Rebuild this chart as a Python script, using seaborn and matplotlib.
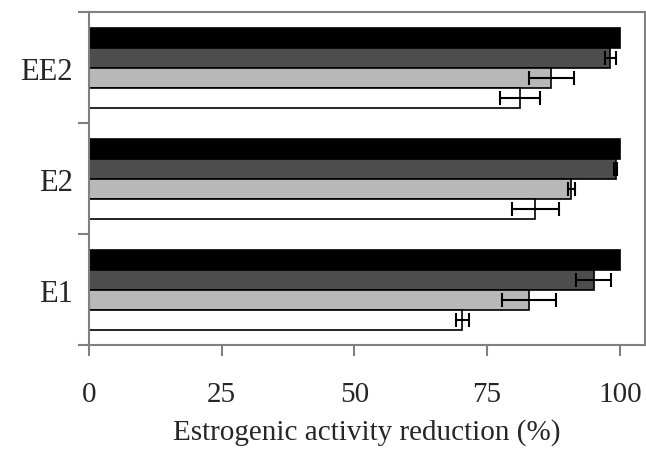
import matplotlib
matplotlib.use("Agg")
import matplotlib.pyplot as plt
import seaborn as sns
import pandas as pd
import numpy as np

compounds = ["EE2", "E2", "E1"]
treatments = ["T1", "T2", "T3", "T4"]
values = {
    "T1": [100, 100, 100],
    "T2": [98.2, 99.2, 95.1],
    "T3": [87.1, 90.9, 82.9],
    "T4": [81.2, 84.1, 70.3],
}
errors = {
    "T1": [0, 0, 0],
    "T2": [1.0, 0.3, 3.3],
    "T3": [4.2, 0.6, 5.1],
    "T4": [3.7, 4.4, 1.2],
}
colors = ["#000000", "#4d4d4d", "#b8b8b8", "#ffffff"]

rows = []
for t in treatments:
    for c, v in zip(compounds, values[t]):
        rows.append({"compound": c, "treatment": t, "value": v})
df = pd.DataFrame(rows)

sns.set_style("white")
plt.rcParams["font.family"] = ["Liberation Serif", "DejaVu Serif"]

fig, ax = plt.subplots(figsize=(6.46, 4.52), dpi=100)
fig.subplots_adjust(left=0.138, right=0.998, top=0.971, bottom=0.234)

sns.barplot(data=df, y="compound", x="value", hue="treatment",
            order=compounds, hue_order=treatments, palette=colors,
            orient="h", width=0.72, gap=0, errorbar=None, legend=False,
            edgecolor="black", linewidth=1.2, ax=ax)

# error bars from bar patches
for t, container in zip(treatments, ax.containers):
    for c_idx, patch in enumerate(container):
        e = errors[t][c_idx]
        if e > 0:
            yc = patch.get_y() + patch.get_height() / 2
            ax.errorbar(patch.get_width(), yc, xerr=e, fmt="none",
                        ecolor="black", elinewidth=1.5, capsize=5, capthick=1.5)

ax.set_xlim(0, 104.7)
ax.set_ylim(2.5, -0.5)
ax.set_xticks([0, 25, 50, 75, 100])
ax.set_xticklabels(["0", "25", "50", "75", "100"])
ax.set_yticks([-0.5, 0.5, 1.5, 2.5], minor=True)
ax.tick_params(axis="y", which="major", length=0, pad=12, labelsize=22)
ax.tick_params(axis="y", which="minor", length=8, color="#808080", width=1.5, direction="out", left=True)
ax.tick_params(axis="x", which="major", length=8, color="#808080", width=1.5, direction="out",
               pad=18, labelsize=21, bottom=True)
ax.set_xlabel("Estrogenic activity reduction (%)", fontsize=21, labelpad=8)
ax.set_ylabel("")

for s in ax.spines.values():
    s.set_color("#808080")
    s.set_linewidth(1.5)
    s.set_visible(True)

fig.savefig("out.png", dpi=100)
